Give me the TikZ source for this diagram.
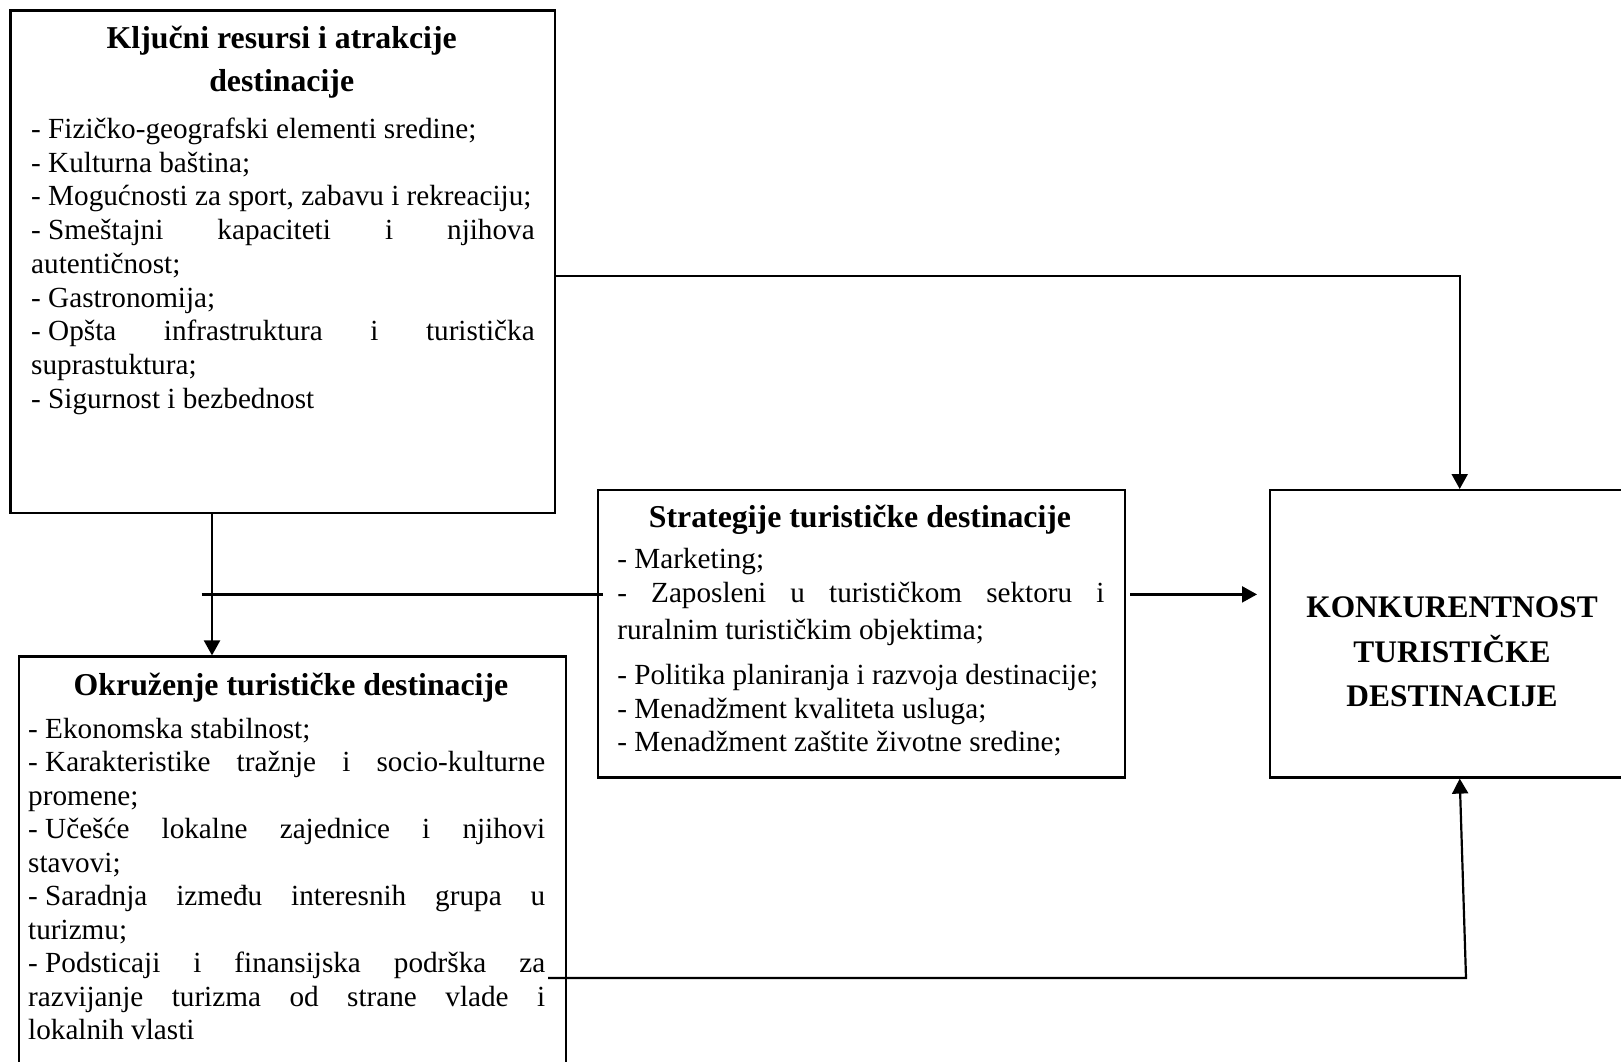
\documentclass[tikz,border=0pt]{standalone}
\usepackage{fontspec}
\setmainfont{Liberation Serif}
\usetikzlibrary{arrows.meta}
\begin{document}
\begin{tikzpicture}[x=1pt,y=-1pt,
  box/.style={draw, line width=2.2pt, inner sep=0pt, anchor=north west},
  ln/.style={anchor=base west, inner sep=0pt, font=\fontsize{29.2}{33.7}\selectfont},
  ttl/.style={anchor=base, inner sep=0pt, font=\fontsize{31.8}{38}\selectfont\bfseries},
  big/.style={anchor=base, inner sep=0pt, font=\fontsize{31.4}{45}\selectfont\bfseries},
  con/.style={line width=2.2pt},
  arr/.style={line width=2.2pt, -{Triangle[length=15pt,width=16pt]}}]
\clip (0,0) rectangle (1621,1061);
\fill[white] (0,0) rectangle (1621,1061);
% boxes
\node[box, minimum width=544.7pt, minimum height=502.4pt] (A) at (9.3,9.3) {};
\node[box, minimum width=546.9pt, minimum height=500pt] (B) at (17.6,655.4) {};
\node[box, minimum width=527.2pt, minimum height=287.4pt] (C) at (596.5,489) {};
\node[box, minimum width=400pt, minimum height=287.4pt] (D) at (1268.5,489) {};
% box A text
\node[ttl] (at1) at (281.7,48.3) {Ključni resursi i atrakcije};
\node[ttl] (at2) at (281.7,91.7) {destinacije};
\node[ln] (a1) at (31,138.5) {- Fizičko-geografski elementi sredine;};
\node[ln] (a2) at (31,172.2) {- Kulturna baština;};
\node[ln] (a3) at (31,205.9) {- Mogućnosti za sport, zabavu i rekreaciju;};
\node[ln] (a4) at (31,239.6) {\makebox[503.5pt][s]{\mbox{- Smeštajni} kapaciteti i njihova}};
\node[ln] (a5) at (31,273.3) {autentičnost;};
\node[ln] (a6) at (31,307) {- Gastronomija;};
\node[ln] (a7) at (31,340.7) {\makebox[503.5pt][s]{\mbox{- Opšta} infrastruktura i turistička}};
\node[ln] (a8) at (31,374.4) {suprastuktura;};
\node[ln] (a9) at (31,408.1) {- Sigurnost i bezbednost};
% box B text
\node[ttl] (bt) at (291,695.4) {Okruženje turističke destinacije};
\node[ln] (b1) at (28,738) {- Ekonomska stabilnost;};
\node[ln] (b2) at (28,771.5) {\makebox[517pt][s]{\mbox{- Karakteristike} tražnje i socio-kulturne}};
\node[ln] (b3) at (28,805) {promene;};
\node[ln] (b4) at (28,838.5) {\makebox[517pt][s]{\mbox{- Učešće} lokalne zajednice i njihovi}};
\node[ln] (b5) at (28,872) {stavovi;};
\node[ln] (b6) at (28,905.5) {\makebox[517pt][s]{\mbox{- Saradnja} između interesnih grupa u}};
\node[ln] (b7) at (28,939) {turizmu;};
\node[ln] (b8) at (28,972.5) {\makebox[517pt][s]{\mbox{- Podsticaji} i finansijska podrška za}};
\node[ln] (b9) at (28,1006) {\makebox[517pt][s]{razvijanje turizma od strane vlade i}};
\node[ln] (b10) at (28,1039.5) {lokalnih vlasti};
% box C text
\node[ttl] (ct) at (860,527) {Strategije turističke destinacije};
\node[ln] (c1) at (617.2,568.3) {- Marketing;};
\node[ln] (c2) at (617.2,602.4) {\makebox[487pt][s]{- Zaposleni u turističkom sektoru i}};
\node[ln] (c3) at (617.2,639.7) {ruralnim turističkim objektima;};
\node[ln] (c4) at (617.2,684.1) {- Politika planiranja i razvoja destinacije;};
\node[ln] (c5) at (617.2,718.2) {- Menadžment kvaliteta usluga;};
\node[ln] (c6) at (617.2,751.3) {- Menadžment zaštite životne sredine;};
% box D text
\node[big] (d1) at (1452,617.6) {KONKURENTNOST};
\node[big] (d2) at (1452,662.1) {TURISTIČKE};
\node[big] (d3) at (1452,706.5) {DESTINACIJE};
% connectors
\coordinate (ab) at (212,0);
\draw[arr] (A.south -| ab) -- (B.north -| ab);
\coordinate (h1) at (201.6,594.4);
\coordinate (h2) at (602.7,594.4);
\draw[con] (h1) -- (h2);
\coordinate (h3) at (1130,594.4);
\coordinate (h4) at (1257,594.4);
\draw[arr] (h3) -- (h4);
\coordinate (ad) at (1459.7,276);
\draw[arr] (A.east |- ad) -- (ad) -- (D.north -| ad);
\coordinate (bd1) at (548,978);
\coordinate (bd2) at (1466,978);
\draw[arr] (bd1) -- (bd2) -- (D.south -| ad);
\end{tikzpicture}
\end{document}
